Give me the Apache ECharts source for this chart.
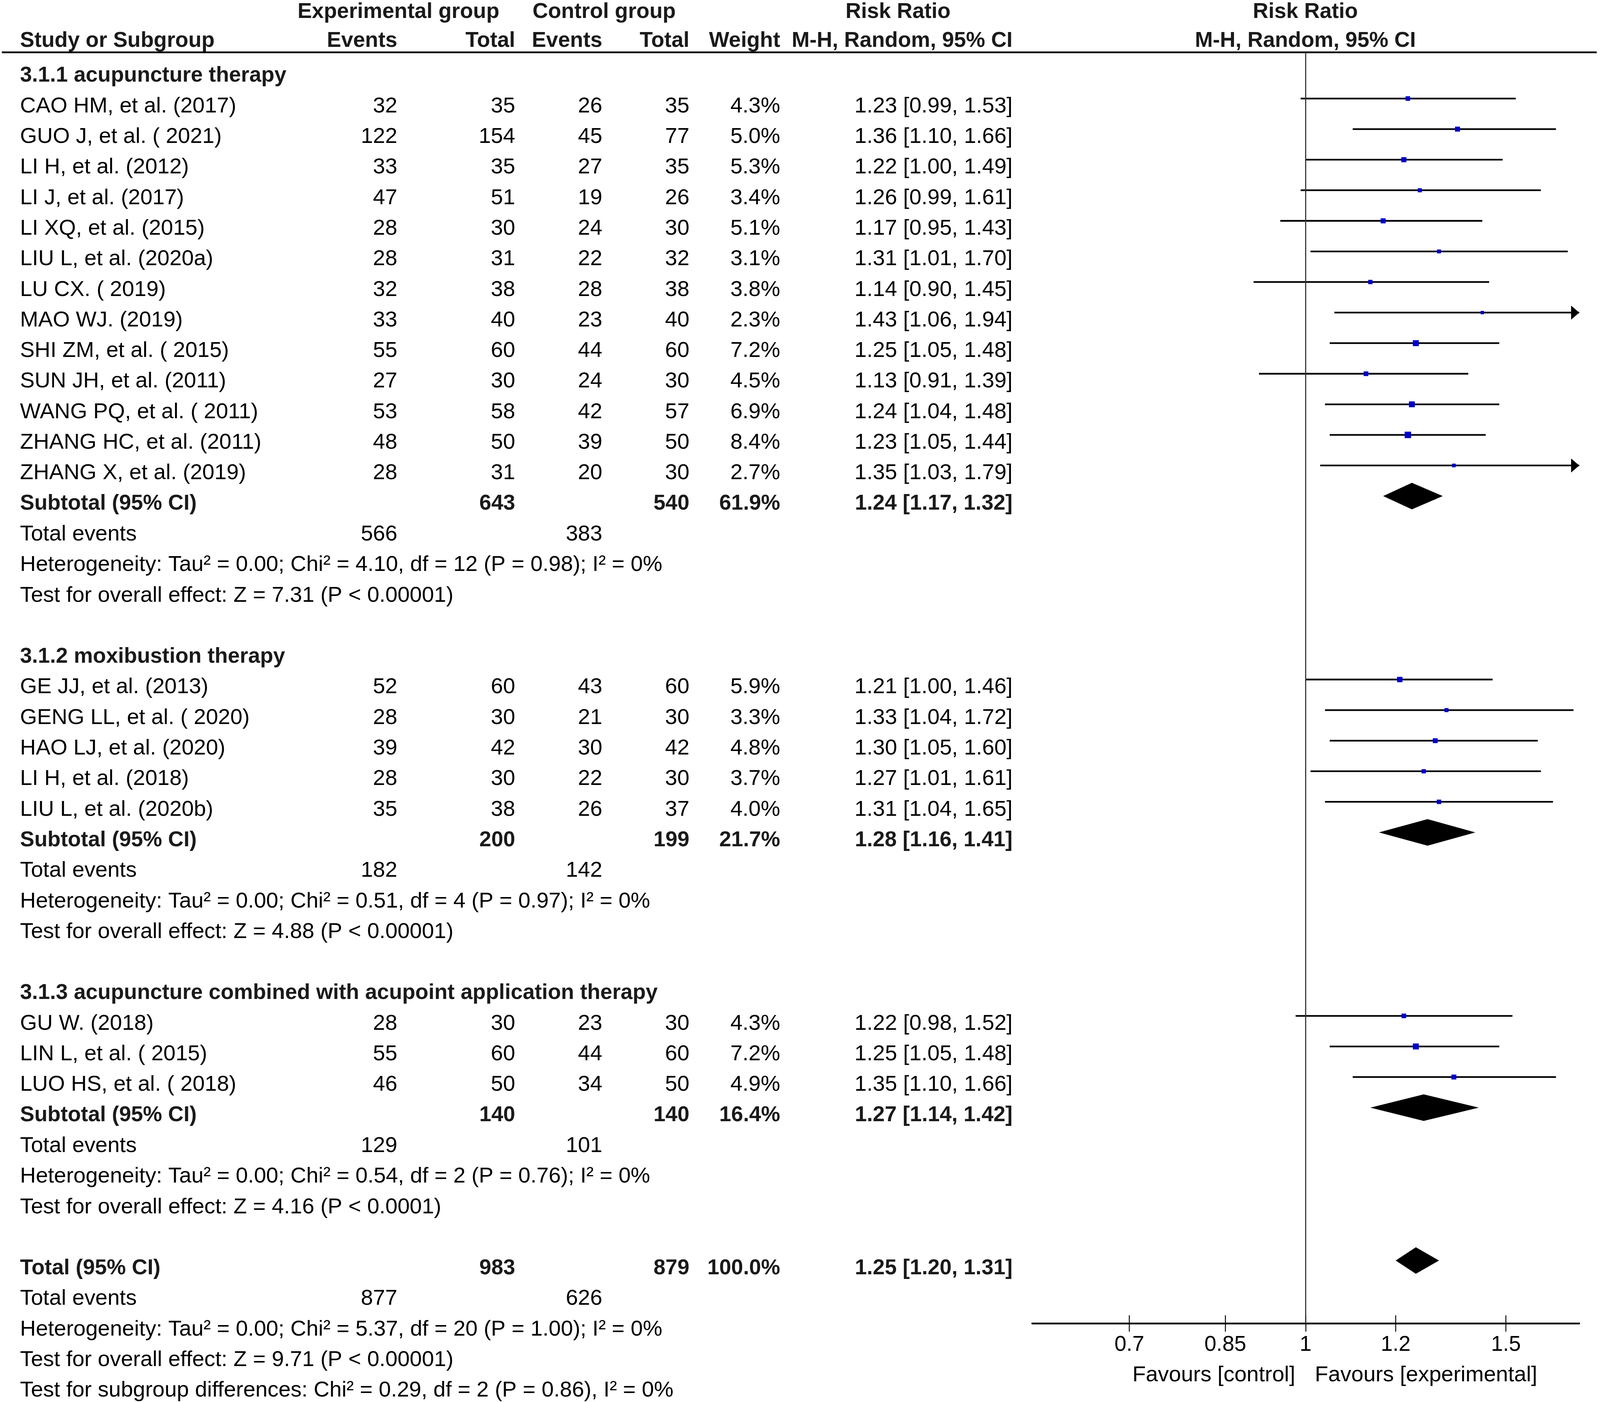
<!DOCTYPE html>
<html>
<head>
<meta charset="utf-8">
<script src="https://cdn.jsdelivr.net/npm/echarts@6/dist/echarts.min.js"></script>
<style>
html,body{margin:0;padding:0;background:#fff;overflow:hidden;}
#c{width:100vw;height:100vh;}
</style>
</head>
<body>
<div id="c"></div>
<script>
// ---------------- DATA ----------------
const groupTitles = [
  '3.1.1 acupuncture therapy',
  '3.1.2 moxibustion therapy',
  '3.1.3 acupuncture combined with acupoint application therapy'
];
const groupSizes = [13, 5, 3];
const studyNames = [
  'CAO HM, et al. (2017)', 'GUO J, et al. ( 2021)', 'LI H, et al. (2012)', 'LI J, et al. (2017)',
  'LI XQ, et al. (2015)', 'LIU L, et al. (2020a)', 'LU CX. ( 2019)', 'MAO WJ. (2019)',
  'SHI ZM, et al. ( 2015)', 'SUN JH, et al. (2011)', 'WANG PQ, et al. ( 2011)', 'ZHANG HC, et al. (2011)',
  'ZHANG X, et al. (2019)',
  'GE JJ, et al. (2013)', 'GENG LL, et al. ( 2020)', 'HAO LJ, et al. (2020)', 'LI H, et al. (2018)',
  'LIU L, et al. (2020b)',
  'GU W. (2018)', 'LIN L, et al. ( 2015)', 'LUO HS, et al. ( 2018)'
];
const expEvents = [32, 122, 33, 47, 28, 28, 32, 33, 55, 27, 53, 48, 28, 52, 28, 39, 28, 35, 28, 55, 46];
const expTotals = [35, 154, 35, 51, 30, 31, 38, 40, 60, 30, 58, 50, 31, 60, 30, 42, 30, 38, 30, 60, 50];
const ctlEvents = [26, 45, 27, 19, 24, 22, 28, 23, 44, 24, 42, 39, 20, 43, 21, 30, 22, 26, 23, 44, 34];
const ctlTotals = [35, 77, 35, 26, 30, 32, 38, 40, 60, 30, 57, 50, 30, 60, 30, 42, 30, 37, 30, 60, 50];
const weights   = [4.3, 5.0, 5.3, 3.4, 5.1, 3.1, 3.8, 2.3, 7.2, 4.5, 6.9, 8.4, 2.7, 5.9, 3.3, 4.8, 3.7, 4.0, 4.3, 7.2, 4.9];
const riskRatio = [1.23, 1.36, 1.22, 1.26, 1.17, 1.31, 1.14, 1.43, 1.25, 1.13, 1.24, 1.23, 1.35, 1.21, 1.33, 1.30, 1.27, 1.31, 1.22, 1.25, 1.35];
const ciLow     = [0.99, 1.10, 1.00, 0.99, 0.95, 1.01, 0.90, 1.06, 1.05, 0.91, 1.04, 1.05, 1.03, 1.00, 1.04, 1.05, 1.01, 1.04, 0.98, 1.05, 1.10];
const ciHigh    = [1.53, 1.66, 1.49, 1.61, 1.43, 1.70, 1.45, 1.94, 1.48, 1.39, 1.48, 1.44, 1.79, 1.46, 1.72, 1.60, 1.61, 1.65, 1.52, 1.48, 1.66];

const subExpTotal  = [643, 200, 140];
const subCtlTotal  = [540, 199, 140];
const subWeight    = [61.9, 21.7, 16.4];
const subRR        = [1.24, 1.28, 1.27];
const subLow       = [1.17, 1.16, 1.14];
const subHigh      = [1.32, 1.41, 1.42];
const subExpEvents = [566, 182, 129];
const subCtlEvents = [383, 142, 101];
const subHeterogeneity = [
  'Heterogeneity: Tau² = 0.00; Chi² = 4.10, df = 12 (P = 0.98); I² = 0%',
  'Heterogeneity: Tau² = 0.00; Chi² = 0.51, df = 4 (P = 0.97); I² = 0%',
  'Heterogeneity: Tau² = 0.00; Chi² = 0.54, df = 2 (P = 0.76); I² = 0%'
];
const subOverall = [
  'Test for overall effect: Z = 7.31 (P < 0.00001)',
  'Test for overall effect: Z = 4.88 (P < 0.00001)',
  'Test for overall effect: Z = 4.16 (P < 0.0001)'
];
const totalExpTotal = 983, totalCtlTotal = 879, totalWeight = 100.0;
const totalRR = 1.25, totalLow = 1.20, totalHigh = 1.31;
const totalExpEvents = 877, totalCtlEvents = 626;
const totalTexts = [
  'Heterogeneity: Tau² = 0.00; Chi² = 5.37, df = 20 (P = 1.00); I² = 0%',
  'Test for overall effect: Z = 9.71 (P < 0.00001)',
  'Test for subgroup differences: Chi² = 0.29, df = 2 (P = 0.86), I² = 0%'
];
const headerTop = ['Experimental group', 'Control group', 'Risk Ratio', 'Risk Ratio'];
const headerSub = ['Study or Subgroup', 'Events', 'Total', 'Events', 'Total', 'Weight', 'M-H, Random, 95% CI', 'M-H, Random, 95% CI'];
const tickValues = [0.7, 0.85, 1, 1.2, 1.5];
const tickLabels = ['0.7', '0.85', '1', '1.2', '1.5'];
const favourLabels = ['Favours [control]', 'Favours [experimental]'];
const axisMin = 0.575, axisMax = 1.74;

// ---------------- LAYOUT (reference pixel space 4317 x 3590) ----------------
const dom = document.getElementById('c');
const KX = (dom.clientWidth || 4317) / 4317;
const KY = (dom.clientHeight || 3590) / 3590;
const K = Math.min(KX, KY);
const FONT = '"Liberation Sans", Arial, Helvetica, sans-serif';
const FS_REG = 59 * K, FS_BOLD = 58 * K;
const COL = { name: 54, expEv: 1072, expTot: 1390, ctlEv: 1625, ctlTot: 1860, weight: 2105, ci: 2732, plot: 3522, expHead: 1075, ctlHead: 1630, rrHead: 2423 };
const XMIN = Math.log(axisMin), XMAX = Math.log(axisMax);

const cells = [];
function addCell(x, row, text, align, bold) { cells.push({ x, row, text: String(text), align, bold }); }
const fmtCI = (r, l, h) => r.toFixed(2) + ' [' + l.toFixed(2) + ', ' + h.toFixed(2) + ']';
const fmtW = w => w.toFixed(1) + '%';

const H1 = -2.08, H2 = -1.137, RULE = -0.766;
addCell(COL.expHead, H1, headerTop[0], 'center', true);
addCell(COL.ctlHead, H1, headerTop[1], 'center', true);
addCell(COL.rrHead, H1, headerTop[2], 'center', true);
addCell(COL.plot, H1, headerTop[3], 'center', true);
addCell(COL.name, H2, headerSub[0], 'left', true);
addCell(COL.expEv, H2, headerSub[1], 'right', true);
addCell(COL.expTot, H2, headerSub[2], 'right', true);
addCell(COL.ctlEv, H2, headerSub[3], 'right', true);
addCell(COL.ctlTot, H2, headerSub[4], 'right', true);
addCell(COL.weight, H2, headerSub[5], 'right', true);
addCell(COL.ci, H2, headerSub[6], 'right', true);
addCell(COL.plot, H2, headerSub[7], 'center', true);

const forestStudies = [];
const forestDiamonds = [];
let row = 0, s = 0;
groupTitles.forEach((title, g) => {
  addCell(COL.name, row, title, 'left', true); row++;
  for (let k = 0; k < groupSizes[g]; k++, s++) {
    addCell(COL.name, row, studyNames[s], 'left', false);
    addCell(COL.expEv, row, expEvents[s], 'right', false);
    addCell(COL.expTot, row, expTotals[s], 'right', false);
    addCell(COL.ctlEv, row, ctlEvents[s], 'right', false);
    addCell(COL.ctlTot, row, ctlTotals[s], 'right', false);
    addCell(COL.weight, row, fmtW(weights[s]), 'right', false);
    addCell(COL.ci, row, fmtCI(riskRatio[s], ciLow[s], ciHigh[s]), 'right', false);
    forestStudies.push([Math.log(riskRatio[s]), Math.log(ciLow[s]), Math.log(ciHigh[s]), row, weights[s]]);
    row++;
  }
  addCell(COL.name, row, 'Subtotal (95% CI)', 'left', true);
  addCell(COL.expTot, row, subExpTotal[g], 'right', true);
  addCell(COL.ctlTot, row, subCtlTotal[g], 'right', true);
  addCell(COL.weight, row, fmtW(subWeight[g]), 'right', true);
  addCell(COL.ci, row, fmtCI(subRR[g], subLow[g], subHigh[g]), 'right', true);
  forestDiamonds.push([Math.log(subRR[g]), Math.log(subLow[g]), Math.log(subHigh[g]), row]);
  row++;
  addCell(COL.name, row, 'Total events', 'left', false);
  addCell(COL.expEv, row, subExpEvents[g], 'right', false);
  addCell(COL.ctlEv, row, subCtlEvents[g], 'right', false);
  row++;
  addCell(COL.name, row, subHeterogeneity[g], 'left', false); row++;
  addCell(COL.name, row, subOverall[g], 'left', false); row++;
  row++;
});
addCell(COL.name, row, 'Total (95% CI)', 'left', true);
addCell(COL.expTot, row, totalExpTotal, 'right', true);
addCell(COL.ctlTot, row, totalCtlTotal, 'right', true);
addCell(COL.weight, row, fmtW(totalWeight), 'right', true);
addCell(COL.ci, row, fmtCI(totalRR, totalLow, totalHigh), 'right', true);
forestDiamonds.push([Math.log(totalRR), Math.log(totalLow), Math.log(totalHigh), row]);
row++;
addCell(COL.name, row, 'Total events', 'left', false);
addCell(COL.expEv, row, totalExpEvents, 'right', false);
addCell(COL.ctlEv, row, totalCtlEvents, 'right', false);
row++;
totalTexts.forEach(t => { addCell(COL.name, row, t, 'left', false); row++; });

const FAV_ROW = 42.75;

// ---------------- CHART ----------------
const chart = echarts.init(dom);
const tickFmt = v => { const i = tickValues.findIndex(t => Math.abs(Math.log(t) - v) < 1e-9); return i >= 0 ? tickLabels[i] : ''; };

chart.setOption({
  animation: false,
  backgroundColor: '#fff',
  grid: [
    { left: 0, top: 6.1 * KY, width: 4317 * KX, height: 3601.8 * KY, outerBoundsMode: 'none', containLabel: false },
    { left: 2785 * KX, top: 134 * KY, width: 1476 * KX, height: 3255 * KY, outerBoundsMode: 'none', containLabel: false }
  ],
  xAxis: [
    { gridIndex: 0, type: 'value', min: 0, max: 4317, show: false, axisLine: { onZero: false }, splitLine: { show: false } },
    {
      gridIndex: 1, type: 'value', min: XMIN, max: XMAX, position: 'bottom',
      axisLine: { show: true, onZero: false, lineStyle: { color: '#000', width: 4.5 * K } },
      axisTick: { show: true, inside: false, length: 22 * K, customValues: tickValues.map(Math.log), lineStyle: { color: '#000', width: 2.5 * K } },
      axisLabel: { show: true, customValues: tickValues.map(Math.log), formatter: tickFmt, margin: 29 * K, fontSize: 58 * K, fontFamily: FONT, color: '#000' },
      splitLine: { show: false }
    },
    {
      gridIndex: 1, type: 'value', min: XMIN, max: XMAX, position: 'bottom',
      axisLine: { show: false, onZero: false },
      axisTick: { show: true, inside: true, length: 22 * K, customValues: tickValues.map(Math.log), lineStyle: { color: '#000', width: 2.5 * K } },
      axisLabel: { show: false },
      splitLine: { show: false }
    }
  ],
  yAxis: [
    { gridIndex: 0, type: 'value', min: -2.4, max: 43.6, inverse: true, show: false, axisLine: { onZero: false }, splitLine: { show: false } },
    { gridIndex: 1, type: 'value', min: -0.5109, max: 41.060, inverse: true, show: false, axisLine: { onZero: false }, splitLine: { show: false } }
  ],
  series: [
    {
      type: 'custom', name: 'table', xAxisIndex: 0, yAxisIndex: 0, clip: false, silent: true,
      data: cells.map((c, i) => [c.x, c.row, i]),
      encode: { x: 0, y: 1 },
      renderItem: (params, api) => {
        const c = cells[api.value(2)];
        const p = api.coord([api.value(0), api.value(1)]);
        return {
          type: 'text',
          style: {
            text: c.text, x: p[0], y: p[1],
            font: (c.bold ? 'bold ' + FS_BOLD : FS_REG) + 'px ' + FONT,
            fill: c.bold ? '#1a1a1a' : '#000',
            align: c.align, textAlign: c.align,
            verticalAlign: 'middle', textVerticalAlign: 'middle'
          }
        };
      },
      markLine: {
        silent: true, symbol: ['none', 'none'], label: { show: false },
        lineStyle: { color: '#000', width: 4.5 * K, type: 'solid' },
        data: [[{ coord: [5, RULE] }, { coord: [4308, RULE] }]]
      }
    },
    {
      type: 'custom', name: 'studies', xAxisIndex: 1, yAxisIndex: 1, clip: false, silent: true,
      data: forestStudies,
      encode: { x: [0, 1, 2], y: 3 },
      renderItem: (params, api) => {
        const est = api.value(0), lo = api.value(1), hi = api.value(2), r = api.value(3), w = api.value(4);
        const y = api.coord([0, r])[1];
        const xl = api.coord([Math.max(lo, XMIN), r])[0];
        const xh = api.coord([Math.min(hi, XMAX), r])[0];
        const xe = api.coord([est, r])[0];
        const side = 6 * Math.sqrt(w) * K;
        const aw = 22 * K, ah = 19 * K;
        const children = [
          { type: 'line', shape: { x1: xl, y1: y, x2: xh, y2: y }, style: { stroke: '#000', lineWidth: 4.5 * K } },
          { type: 'rect', shape: { x: xe - side / 2, y: y - side / 2, width: side, height: side }, style: { fill: '#0000c8' } }
        ];
        if (hi > XMAX) children.push({ type: 'polygon', shape: { points: [[xh - aw, y - ah], [xh, y], [xh - aw, y + ah]] }, style: { fill: '#000' } });
        if (lo < XMIN) children.push({ type: 'polygon', shape: { points: [[xl + aw, y - ah], [xl, y], [xl + aw, y + ah]] }, style: { fill: '#000' } });
        return { type: 'group', children };
      },
      markLine: {
        silent: true, symbol: ['none', 'none'], label: { show: false },
        lineStyle: { color: '#333', width: 3 * K, type: 'solid' },
        data: [{ xAxis: 0 }]
      }
    },
    {
      type: 'custom', name: 'diamonds', xAxisIndex: 1, yAxisIndex: 1, clip: false, silent: true,
      data: forestDiamonds,
      encode: { x: [0, 1, 2], y: 3 },
      renderItem: (params, api) => {
        const est = api.value(0), lo = api.value(1), hi = api.value(2), r = api.value(3);
        const pe = api.coord([est, r]), pl = api.coord([lo, r]), ph = api.coord([hi, r]);
        const hh = 34 * KY;
        return {
          type: 'polygon',
          shape: { points: [[pl[0], pl[1]], [pe[0], pe[1] - hh], [ph[0], ph[1]], [pe[0], pe[1] + hh]] },
          style: { fill: '#000' }
        };
      }
    },
    {
      type: 'custom', name: 'favours', xAxisIndex: 1, yAxisIndex: 1, clip: false, silent: true,
      data: [[0, FAV_ROW]],
      encode: { x: 0, y: 1 },
      renderItem: (params, api) => {
        const p = api.coord([api.value(0), api.value(1)]);
        const font = FS_REG + 'px ' + FONT;
        return {
          type: 'group',
          children: [
            { type: 'text', style: { text: favourLabels[0], x: p[0] - 28 * KX, y: p[1], font, fill: '#000', align: 'right', textAlign: 'right', verticalAlign: 'middle', textVerticalAlign: 'middle' } },
            { type: 'text', style: { text: favourLabels[1], x: p[0] + 25 * KX, y: p[1], font, fill: '#000', align: 'left', textAlign: 'left', verticalAlign: 'middle', textVerticalAlign: 'middle' } }
          ]
        };
      }
    }
  ]
});
</script>
</body>
</html>
